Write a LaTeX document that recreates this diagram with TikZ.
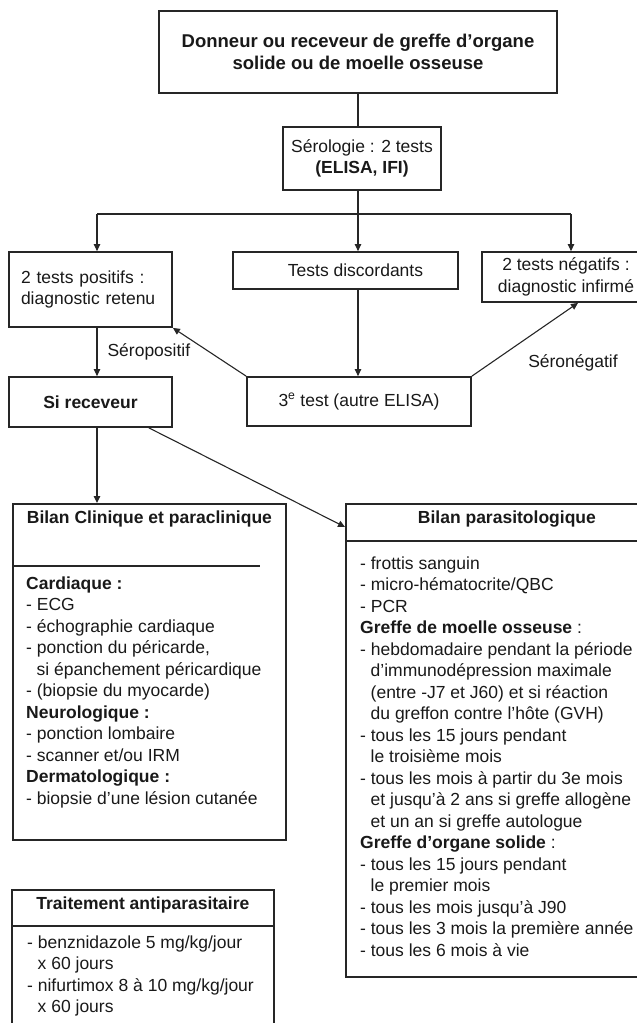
\documentclass[tikz,border=0pt]{standalone}
\usepackage{fontspec}
\setmainfont{Liberation Sans}
\usetikzlibrary{positioning,calc,arrows.meta}

\begin{document}
\begin{tikzpicture}[x=1pt,y=-1pt,
    every node/.style={font=\fontsize{17.5}{21.5}\selectfont,text=black!90,inner sep=0pt},
    box/.style={draw=black!85,line width=1.8pt,rectangle},
    conn/.style={draw=black!85,line width=1.1pt},
    arr/.style={conn,-{Triangle[length=7pt,width=6.5pt]}},
    head/.style={font=\fontsize{17.5}{21.5}\selectfont\bfseries},
    liste/.style={align=left,anchor=base west}]
        \useasboundingbox (0,0) rectangle (637,1023);
        \clip (0,0) rectangle (637,1023);
        \node[box,minimum width=398,minimum height=82,align=center,font=\fontsize{18.5}{22}\selectfont\bfseries] (donneur) at (358,52) {Donneur ou receveur de greffe d’organe\\solide ou de moelle osseuse};
        \node[box,minimum width=158,minimum height=63,align=center] (serologie) at (362,158.5) {Sérologie : 2 tests\\\textbf{(ELISA, IFI)}};
        \node[box,minimum width=163,minimum height=75,text width=139,inner xsep=12pt,align=left] (positifs) at (90.5,289.5) {2 tests positifs :\\diagnostic retenu};
        \node[box,minimum width=225,minimum height=37] (discordants) at (345.5,270.5) {\hspace*{20pt}Tests discordants};
        \node[box,minimum width=168,minimum height=50,align=center] (negatifs) at (566,277) {2 tests négatifs :\\diagnostic infirmé};
        \node[box,minimum width=163,minimum height=50,font=\fontsize{17.5}{21.5}\selectfont\bfseries] (receveur) at (90.5,402) {Si receveur};
        \node[box,minimum width=224,minimum height=49] (troisieme) at (359,401.5) {3\textsuperscript{e} test (autre ELISA)};
        \draw (358,214) coordinate (bar) (97,214) coordinate (barL) (571,214) coordinate (barR);
        \draw[conn] (donneur.south -| bar) -- (serologie.north -| bar);
        \draw[conn] (serologie.south -| bar) -- (bar);
        \draw[conn] (barL) -- (barR);
        \draw[arr] (barL) -- (barL |- positifs.north);
        \draw[arr] (bar) -- (discordants.north -| bar);
        \draw[arr] (barR) -- (barR |- negatifs.north);
        \draw[arr] (discordants.south -| bar) -- (troisieme.north -| bar);
        \draw[arr] (troisieme.north west) -- (positifs.south east);
        \draw[arr] (troisieme.north east) -- ($(negatifs.south)+(12,0)$);
        \draw[arr] (positifs.south -| barL) -- node[right=10pt] (seropositif) {Séropositif} (receveur.north -| barL);
        \node (seronegatif) at (573,363) {Séronégatif};
        \node[box,minimum width=273,minimum height=336,anchor=north west] (clinique) at (12,503) {};
        \node[box,minimum width=316,minimum height=473,anchor=north west] (parasito) at (345,503) {};
        \node[box,minimum width=262,minimum height=160,anchor=north west] (traitement) at (11,889) {};
        \draw[arr] (receveur.south -| barL) -- (clinique.north -| barL);
        \draw[arr] ($(receveur.south east)+(-24,0)$) -- ($(parasito.north west)+(0,24)$);
        \node[head,below=8pt of clinique.north] (cliniquetitre) {Bilan Clinique et paraclinique};
        \node[head,below=8pt of parasito.north,xshift=3pt] (parasitotitre) {Bilan parasitologique};
        \node[head,below=8pt of traitement.north] (traitementtitre) {Traitement antiparasitaire};
        \draw[conn,line width=1.4pt] ($(clinique.north west)+(0,63)$) -- ++(248,0);
        \draw[conn,line width=1.4pt] ($(parasito.north west)+(0,38)$) -- ++(316,0);
        \draw[conn,line width=1.4pt] ($(traitement.north west)+(0,37)$) -- ++(262,0);
        \node[liste] (cliniqueliste) at (26,804) {\textbf{Cardiaque :}\\- ECG\\- échographie cardiaque\\- ponction du péricarde,\\\hspace*{0.6em}si épanchement péricardique\\- (biopsie du myocarde)\\\textbf{Neurologique :}\\- ponction lombaire\\- scanner et/ou IRM\\\textbf{Dermatologique :}\\- biopsie d’une lésion cutanée};
        \node[liste] (parasitoliste) at (360,956) {- frottis sanguin\\- micro-hématocrite/QBC\\- PCR\\\textbf{Greffe de moelle osseuse} :\\- hebdomadaire pendant la période\\\hspace*{0.6em}d’immunodépression maximale\\\hspace*{0.6em}(entre -J7 et J60) et si réaction\\\hspace*{0.6em}du greffon contre l’hôte (GVH)\\- tous les 15 jours pendant\\\hspace*{0.6em}le troisième mois\\- tous les mois à partir du 3e mois\\\hspace*{0.6em}et jusqu’à 2 ans si greffe allogène\\\hspace*{0.6em}et un an si greffe autologue\\\textbf{Greffe d’organe solide} :\\- tous les 15 jours pendant\\\hspace*{0.6em}le premier mois\\- tous les mois jusqu’à J90\\- tous les 3 mois la première année\\- tous les 6 mois à vie};
        \node[liste] (traitementliste) at (27,1012.5) {- benznidazole 5 mg/kg/jour\\\hspace*{0.6em}x 60 jours\\- nifurtimox 8 à 10 mg/kg/jour\\\hspace*{0.6em}x 60 jours};
    \end{tikzpicture}
\end{document}
